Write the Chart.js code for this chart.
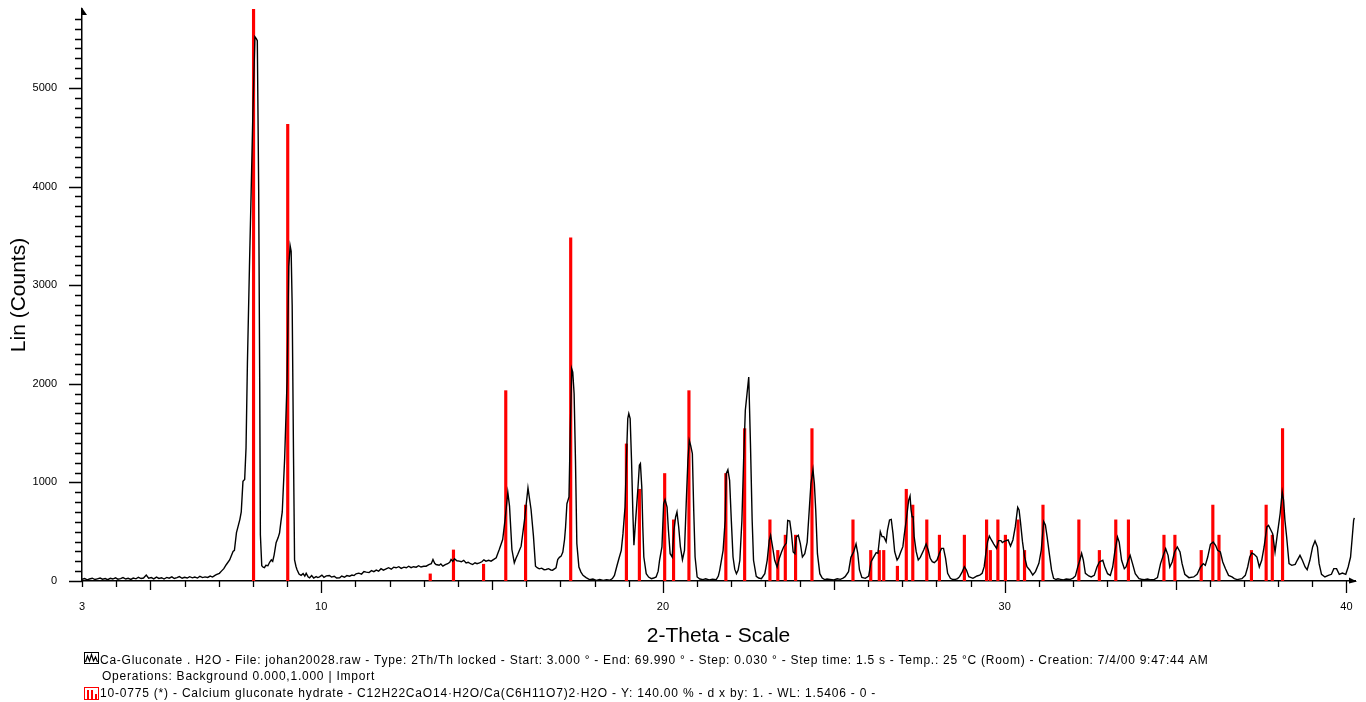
<!DOCTYPE html>
<html>
<head>
<meta charset="utf-8">
<title>Ca-Gluconate . H2O</title>
<script src="https://cdn.jsdelivr.net/npm/chart.js@4.4.1/dist/chart.umd.min.js"></script>
<style>
  html, body { margin: 0; padding: 0; background: #fff; }
  #wrap { width: 1366px; height: 702px; }
</style>
</head>
<body>
<div id="wrap"><canvas id="xrd" width="1366" height="702"></canvas></div>
<script>
// measured pattern: 2-theta (deg) and intensity (counts)
const patternTwoTheta = [
  3.00,3.08,3.15,3.22,3.30,3.38,3.45,3.53,3.60,3.68,
  3.75,3.83,3.90,3.98,4.05,4.13,4.20,4.28,4.35,4.43,
  4.50,4.58,4.65,4.73,4.80,4.88,4.95,5.03,5.10,5.18,
  5.25,5.33,5.40,5.48,5.55,5.63,5.70,5.78,5.85,5.93,
  6.00,6.08,6.15,6.23,6.30,6.38,6.45,6.53,6.60,6.68,
  6.75,6.82,6.88,6.93,
  7.02,7.08,7.15,7.22,7.32,7.42,7.46,7.52,7.56,7.62,
  7.66,7.71,7.76,7.80,7.84,7.90,7.95,8.00,8.06,8.10,
  8.13,8.17,8.20,8.22,8.26,8.30,8.34,8.38,8.44,8.49,
  8.54,8.58,8.62,8.68,8.74,8.78,8.82,8.86,8.93,9.00,
  9.05,9.09,9.12,9.15,9.19,9.22,9.26,9.29,9.35,9.41,
  9.47,9.52,9.56,
  9.62,9.66,9.72,9.78,9.85,9.90,9.95,10.02,10.08,10.15,
  10.24,10.30,10.38,10.45,10.54,10.60,10.68,10.75,10.83,10.90,
  10.96,11.02,11.10,11.18,11.25,11.32,11.40,11.47,11.54,11.61,
  11.68,11.75,11.82,11.90,11.97,12.05,12.12,12.19,12.27,12.34,
  12.42,12.49,12.56,12.63,12.70,12.78,12.85,12.92,13.00,13.07,
  13.15,13.22,13.27,13.32,13.36,13.45,13.50,13.56,13.63,13.70,
  13.76,13.80,13.85,13.90,13.97,14.04,14.10,14.17,14.24,14.30,
  14.37,14.43,14.50,14.56,14.63,14.70,14.76,14.82,14.90,14.97,
  15.05,15.12,15.21,15.31,15.38,15.46,15.51,15.58,15.65,15.70,
  15.75,15.85,15.95,16.05,16.14,16.21,16.27,16.32,16.38,16.45,
  16.52,16.58,16.65,16.72,16.77,16.87,16.92,16.97,17.02,
  17.07,17.12,17.15,17.19,17.25,17.29,17.33,17.36,17.40,17.44,
  17.48,17.54,17.60,17.66,17.75,17.85,17.95,18.05,18.15,18.25,
  18.35,18.44,18.52,18.58,18.65,18.71,18.78,18.83,18.89,18.93,
  18.97,19.00,19.04,19.08,19.12,19.15,19.20,19.27,19.31,19.34,
  19.38,19.41,19.44,19.51,19.58,19.66,19.73,19.80,19.86,19.90,
  19.97,20.02,20.06,20.12,20.16,20.21,20.27,20.32,20.37,20.41,
  20.46,20.51,20.57,20.63,20.68,20.73,20.77,20.81,20.86,20.90,
  20.94,21.00,21.08,21.17,21.25,21.35,21.45,21.56,21.62,21.66,
  21.76,21.82,21.85,21.90,21.95,22.00,22.05,22.10,22.15,22.20,
  22.25,22.31,22.36,22.41,22.46,22.51,22.56,22.61,22.65,22.73,
  22.80,22.88,22.98,23.05,23.11,23.15,23.20,23.27,23.34,23.40,
  23.47,23.53,23.61,23.65,23.71,23.76,23.81,23.86,23.90,23.96,
  24.02,24.08,24.15,24.22,24.28,24.33,24.39,24.43,24.47,24.52,
  24.59,24.66,24.73,24.80,24.89,
  25.00,25.10,25.19,25.27,25.33,25.43,25.50,25.58,25.65,25.70,
  25.75,25.82,25.92,26.02,26.09,26.16,26.24,26.29,26.36,26.41,
  26.46,26.53,26.57,26.63,26.68,26.73,26.78,26.85,26.90,26.96,
  27.02,27.06,27.12,27.19,27.23,27.26,27.29,27.32,27.35,27.41,
  27.47,27.53,27.63,27.70,27.76,27.82,27.88,27.94,28.02,28.09,
  28.15,28.21,28.27,28.33,28.41,28.48,28.56,28.62,28.68,28.76,
  28.82,28.88,28.95,29.07,29.13,29.19,29.27,29.34,29.40,29.46,
  29.50,29.55,29.61,29.68,29.76,29.82,29.89,29.93,29.97,30.04,
  30.10,30.17,30.24,30.31,30.38,30.42,30.46,30.52,30.58,30.65,
  30.73,30.82,30.90,31.00,31.07,31.14,31.19,31.24,31.31,31.37,
  31.43,31.50,31.56,31.63,31.72,31.80,31.92,32.00,32.07,32.14,
  32.20,32.25,32.30,32.36,32.46,
  32.53,32.62,32.70,32.77,32.87,32.93,33.01,33.09,33.16,33.22,
  33.30,33.35,33.42,33.50,33.55,33.61,33.67,33.74,33.82,33.93,
  34.00,34.08,34.18,34.27,34.37,34.47,34.56,34.64,34.71,34.78,
  34.83,34.90,34.97,35.05,35.13,35.19,35.27,35.39,35.53,35.63,
  35.73,35.81,35.87,35.94,36.02,36.10,36.17,36.23,36.31,36.38,
  36.46,36.55,36.65,36.72,36.80,36.94,37.04,37.11,37.17,37.23,
  37.30,37.38,37.45,37.52,37.59,37.67,37.72,37.79,37.84,37.91,
  37.98,38.06,38.12,38.16,38.20,38.25,38.32,38.40,38.50,38.56,
  38.64,38.71,38.79,38.85,38.93,39.01,39.08,39.15,39.20,39.27,
  39.37,39.47,39.56,39.63,39.71,39.79,39.88,39.98,40.05,40.12,
  40.17,40.21,40.23
];
const patternCounts = [
  18,25,12,20,28,15,22,30,18,25,
  14,27,20,32,18,24,35,20,28,16,
  30,22,38,25,30,60,28,35,22,40,
  26,33,20,36,28,42,25,34,45,28,
  38,30,44,32,40,30,48,35,42,36,
  50,40,55,65,
  78,100,125,165,214,300,311,490,544,625,
  700,1010,1030,1350,2200,3187,3950,4741,5518,5500,
  5479,3964,2021,466,155,140,136,160,155,190,
  214,200,260,389,440,486,600,700,1244,2021,
  3187,3400,3342,2798,1244,214,150,117,70,58,
  75,50,78,
  40,32,55,30,45,35,42,60,38,52,
  56,40,48,30,32,50,38,55,49,60,
  55,73,80,70,95,90,85,105,95,110,
  100,125,110,123,135,120,140,134,145,128,
  140,134,150,135,145,140,155,142,150,150,
  165,175,218,180,167,160,172,150,165,175,
  190,218,200,225,205,201,195,210,184,190,
  175,167,185,175,184,195,215,201,210,201,
  220,235,319,421,623,900,759,319,184,230,
  269,353,623,945,725,455,150,135,123,130,
  115,117,125,112,110,134,218,240,252,
  294,421,548,784,852,1562,2153,2119,1900,1224,
  379,142,90,57,35,14,20,7,15,5,
  12,7,25,57,150,226,311,480,750,1224,
  1646,1697,1646,1224,683,362,615,953,1173,1190,
  953,548,243,74,40,24,30,41,100,210,
  345,784,825,750,514,277,243,514,649,700,
  548,345,216,311,784,1224,1426,1376,1291,717,
  243,41,20,14,22,10,18,14,50,108,
  311,615,1088,1129,1021,615,243,120,74,110,
  210,615,1224,1731,1900,2069,1393,615,210,47,
  30,24,74,210,412,463,362,210,142,226,
  294,345,385,615,608,480,294,277,446,463,
  379,243,277,395,717,987,1129,987,717,277,
  74,30,14,20,17,
  10,22,17,30,44,95,240,297,375,281,
  112,37,27,51,196,240,287,281,500,450,
  450,399,517,619,625,483,297,213,240,297,
  348,466,619,821,862,720,652,652,450,297,
  213,240,314,375,314,230,196,186,213,281,
  331,331,230,78,27,15,17,25,44,95,
  145,112,44,27,40,51,60,78,145,314,
  399,456,416,375,331,409,409,390,399,409,
  416,355,416,551,747,720,602,399,247,145,
  112,61,95,179,314,602,568,450,264,112,
  27,15,22,17,10,20,17,30,51,145,
  213,281,213,78,51,
  41,57,142,193,210,142,74,57,142,294,
  446,395,210,125,142,210,260,176,74,24,
  18,14,20,12,14,34,176,260,328,260,
  142,193,294,345,294,176,68,34,41,68,
  142,176,159,243,372,395,362,311,294,193,
  125,57,41,25,14,24,57,142,243,284,
  270,243,142,210,345,548,564,514,480,294,
  480,683,902,818,615,446,176,159,169,210,
  260,210,142,115,210,345,406,345,176,68,
  41,57,68,125,125,68,81,68,142,243,
  446,615,640
];

// reference card 10-0775 stick positions and heights
const stickTwoTheta = [
  8.02, 9.02, 13.19, 13.87, 14.75, 15.40, 15.98, 17.30, 18.93, 19.31,
  20.05, 20.31, 20.76, 21.84, 22.39, 23.13, 23.36, 23.58, 23.88, 24.36,
  25.56, 26.08, 26.33, 26.46, 26.86, 27.12, 27.31, 27.72, 28.09, 28.82,
  29.47, 29.58, 29.80, 30.02, 30.39, 30.58, 31.12, 32.17, 32.77, 33.25,
  33.62, 34.66, 34.98, 35.75, 36.09, 36.27, 37.22, 37.65, 37.83, 38.13
];
const stickCounts = [
  5800, 4630, 72, 315, 170, 1930, 770, 3480, 1390, 930,
  1090, 620, 1930, 1090, 1545, 620, 310, 465, 465, 1545,
  620, 310, 310, 310, 150, 930, 770, 620, 465, 465,
  620, 310, 620, 465, 620, 310, 770, 620, 310, 620,
  620, 465, 465, 310, 770, 465, 310, 770, 465, 1545
];

const xTickValues = [3, 10, 20, 30, 40];
const yTickValues = [0, 1000, 2000, 3000, 4000, 5000];

const legendLines = [
  'Ca-Gluconate . H2O - File: johan20028.raw - Type: 2Th/Th locked - Start: 3.000 \u00b0 - End: 69.990 \u00b0 - Step: 0.030 \u00b0 - Step time: 1.5 s - Temp.: 25 \u00b0C (Room) - Creation: 7/4/00 9:47:44 AM',
  'Operations: Background 0.000,1.000 | Import',
  '10-0775 (*) - Calcium gluconate hydrate - C12H22CaO14\u00b7H2O/Ca(C6H11O7)2\u00b7H2O - Y: 140.00 % - d x by: 1. - WL: 1.5406 - 0 -'
];

const FONT = '"Liberation Sans", Arial, Helvetica, sans-serif';

// tick marks (minor/medium/major) and the arrow heads at the axis ends
const axisMarks = {
  id: 'axisMarks',
  afterDraw(chart) {
    const { ctx, chartArea: a, scales: { x, y } } = chart;
    ctx.save();
    ctx.strokeStyle = '#000';
    ctx.fillStyle = '#000';
    ctx.lineWidth = 1.3;
    ctx.beginPath();
    for (let v = 3; v <= 40; v++) {
      const px = Math.round(x.getPixelForValue(v)) + 0.5;
      const len = v % 10 === 0 ? 12 : (v % 5 === 0 ? 9 : 6);
      ctx.moveTo(px, a.bottom);
      ctx.lineTo(px, a.bottom + len);
    }
    for (let v = 0; v <= 5700; v += 100) {
      const py = Math.round(y.getPixelForValue(v)) + 0.5;
      const len = v % 1000 === 0 ? 13 : 7;
      ctx.moveTo(a.left, py);
      ctx.lineTo(a.left - len, py);
    }
    ctx.stroke();

    ctx.beginPath();
    ctx.moveTo(a.left - 0.5, a.top - 2);
    ctx.lineTo(a.left + 5, a.top + 6);
    ctx.lineTo(a.left - 0.5, a.top + 6);
    ctx.closePath();
    ctx.fill();

    ctx.beginPath();
    ctx.moveTo(a.right + 2, a.bottom + 0.5);
    ctx.lineTo(a.right - 6, a.bottom - 3.5);
    ctx.lineTo(a.right - 6, a.bottom + 2.5);
    ctx.closePath();
    ctx.fill();
    ctx.restore();
  }
};

// legend block under the axis title
const legendBlock = {
  id: 'legendBlock',
  afterDraw(chart) {
    const ctx = chart.ctx;
    ctx.save();

    // scan icon
    ctx.strokeStyle = '#000';
    ctx.lineWidth = 1;
    ctx.strokeRect(84.5, 652.5, 14, 11);
    ctx.lineWidth = 1.2;
    ctx.beginPath();
    ctx.moveTo(85.5, 662);
    ctx.lineTo(87.5, 656);
    ctx.lineTo(89.5, 661);
    ctx.lineTo(91.5, 654.5);
    ctx.lineTo(93.5, 661);
    ctx.lineTo(95.5, 657);
    ctx.lineTo(97.5, 662);
    ctx.stroke();

    // stick icon
    ctx.strokeStyle = '#ff0000';
    ctx.lineWidth = 1;
    ctx.strokeRect(84.5, 687.5, 14, 12);
    ctx.fillStyle = '#ff0000';
    ctx.fillRect(87, 690, 2, 10);
    ctx.fillRect(91, 690, 2, 10);
    ctx.fillRect(95, 694, 2, 6);

    ctx.fillStyle = '#000';
    ctx.font = '12px ' + FONT;
    ctx.textBaseline = 'alphabetic';
    ctx.textAlign = 'left';
    const rows = [
      { text: legendLines[0], x: 100, y: 664, right: 1208 },
      { text: legendLines[1], x: 102, y: 680, right: 375 },
      { text: legendLines[2], x: 100, y: 697, right: 876 }
    ];
    rows.forEach(r => {
      ctx.letterSpacing = '0px';
      const w = ctx.measureText(r.text).width;
      const extra = Math.max(0, (r.right - r.x - w) / r.text.length);
      ctx.letterSpacing = extra.toFixed(2) + 'px';
      ctx.fillText(r.text, r.x, r.y);
    });
    ctx.letterSpacing = '0px';
    ctx.restore();
  }
};

new Chart(document.getElementById('xrd'), {
  type: 'line',
  data: {
    datasets: [
      {
        type: 'line',
        label: 'Ca-Gluconate . H2O',
        data: patternTwoTheta.map((t, i) => ({ x: t, y: patternCounts[i] })),
        borderColor: '#000',
        borderWidth: 1.4,
        pointRadius: 0,
        tension: 0,
        fill: false,
        order: 0
      },
      {
        type: 'bar',
        label: '10-0775 Calcium gluconate hydrate',
        data: stickTwoTheta.map((t, i) => ({ x: t, y: stickCounts[i] })),
        backgroundColor: '#ff0000',
        borderWidth: 0,
        barThickness: 2.5,
        grouped: false,
        order: 1
      }
    ]
  },
  options: {
    responsive: false,
    animation: false,
    devicePixelRatio: 1,
    layout: { padding: { left: 0, top: 9, right: 11, bottom: 0 } },
    plugins: {
      legend: { display: false },
      tooltip: { enabled: false }
    },
    scales: {
      x: {
        type: 'linear',
        min: 3,
        max: 40.25,
        offset: false,
        grid: { display: false, drawTicks: false },
        border: { display: true, color: '#000', width: 1.5 },
        ticks: {
          autoSkip: false,
          maxRotation: 0,
          padding: 19,
          color: '#000',
          font: { family: FONT, size: 11 },
          callback: v => String(v)
        },
        afterBuildTicks: s => { s.ticks = xTickValues.map(v => ({ value: v })); },
        // fixed box: labels must not push the plot edges inward
        afterFit: s => { s.height = 121; s.paddingLeft = 0; s.paddingRight = 0; },
        title: {
          display: true,
          text: '2-Theta - Scale',
          color: '#000',
          font: { family: FONT, size: 21 },
          padding: { top: 0, bottom: 53 }
        }
      },
      y: {
        type: 'linear',
        min: 0,
        max: 5800,
        grid: { display: false, drawTicks: false },
        border: { display: true, color: '#000', width: 1.5 },
        ticks: {
          autoSkip: false,
          padding: 25,
          color: '#000',
          font: { family: FONT, size: 11 },
          callback: v => String(v)
        },
        afterBuildTicks: s => { s.ticks = yTickValues.map(v => ({ value: v })); },
        afterFit: s => { s.width = 82; s.paddingTop = 0; s.paddingBottom = 0; },
        title: {
          display: true,
          text: 'Lin (Counts)',
          color: '#000',
          font: { family: FONT, size: 21 },
          padding: { top: 7, bottom: 0 }
        }
      }
    }
  },
  plugins: [axisMarks, legendBlock]
});
</script>
</body>
</html>
